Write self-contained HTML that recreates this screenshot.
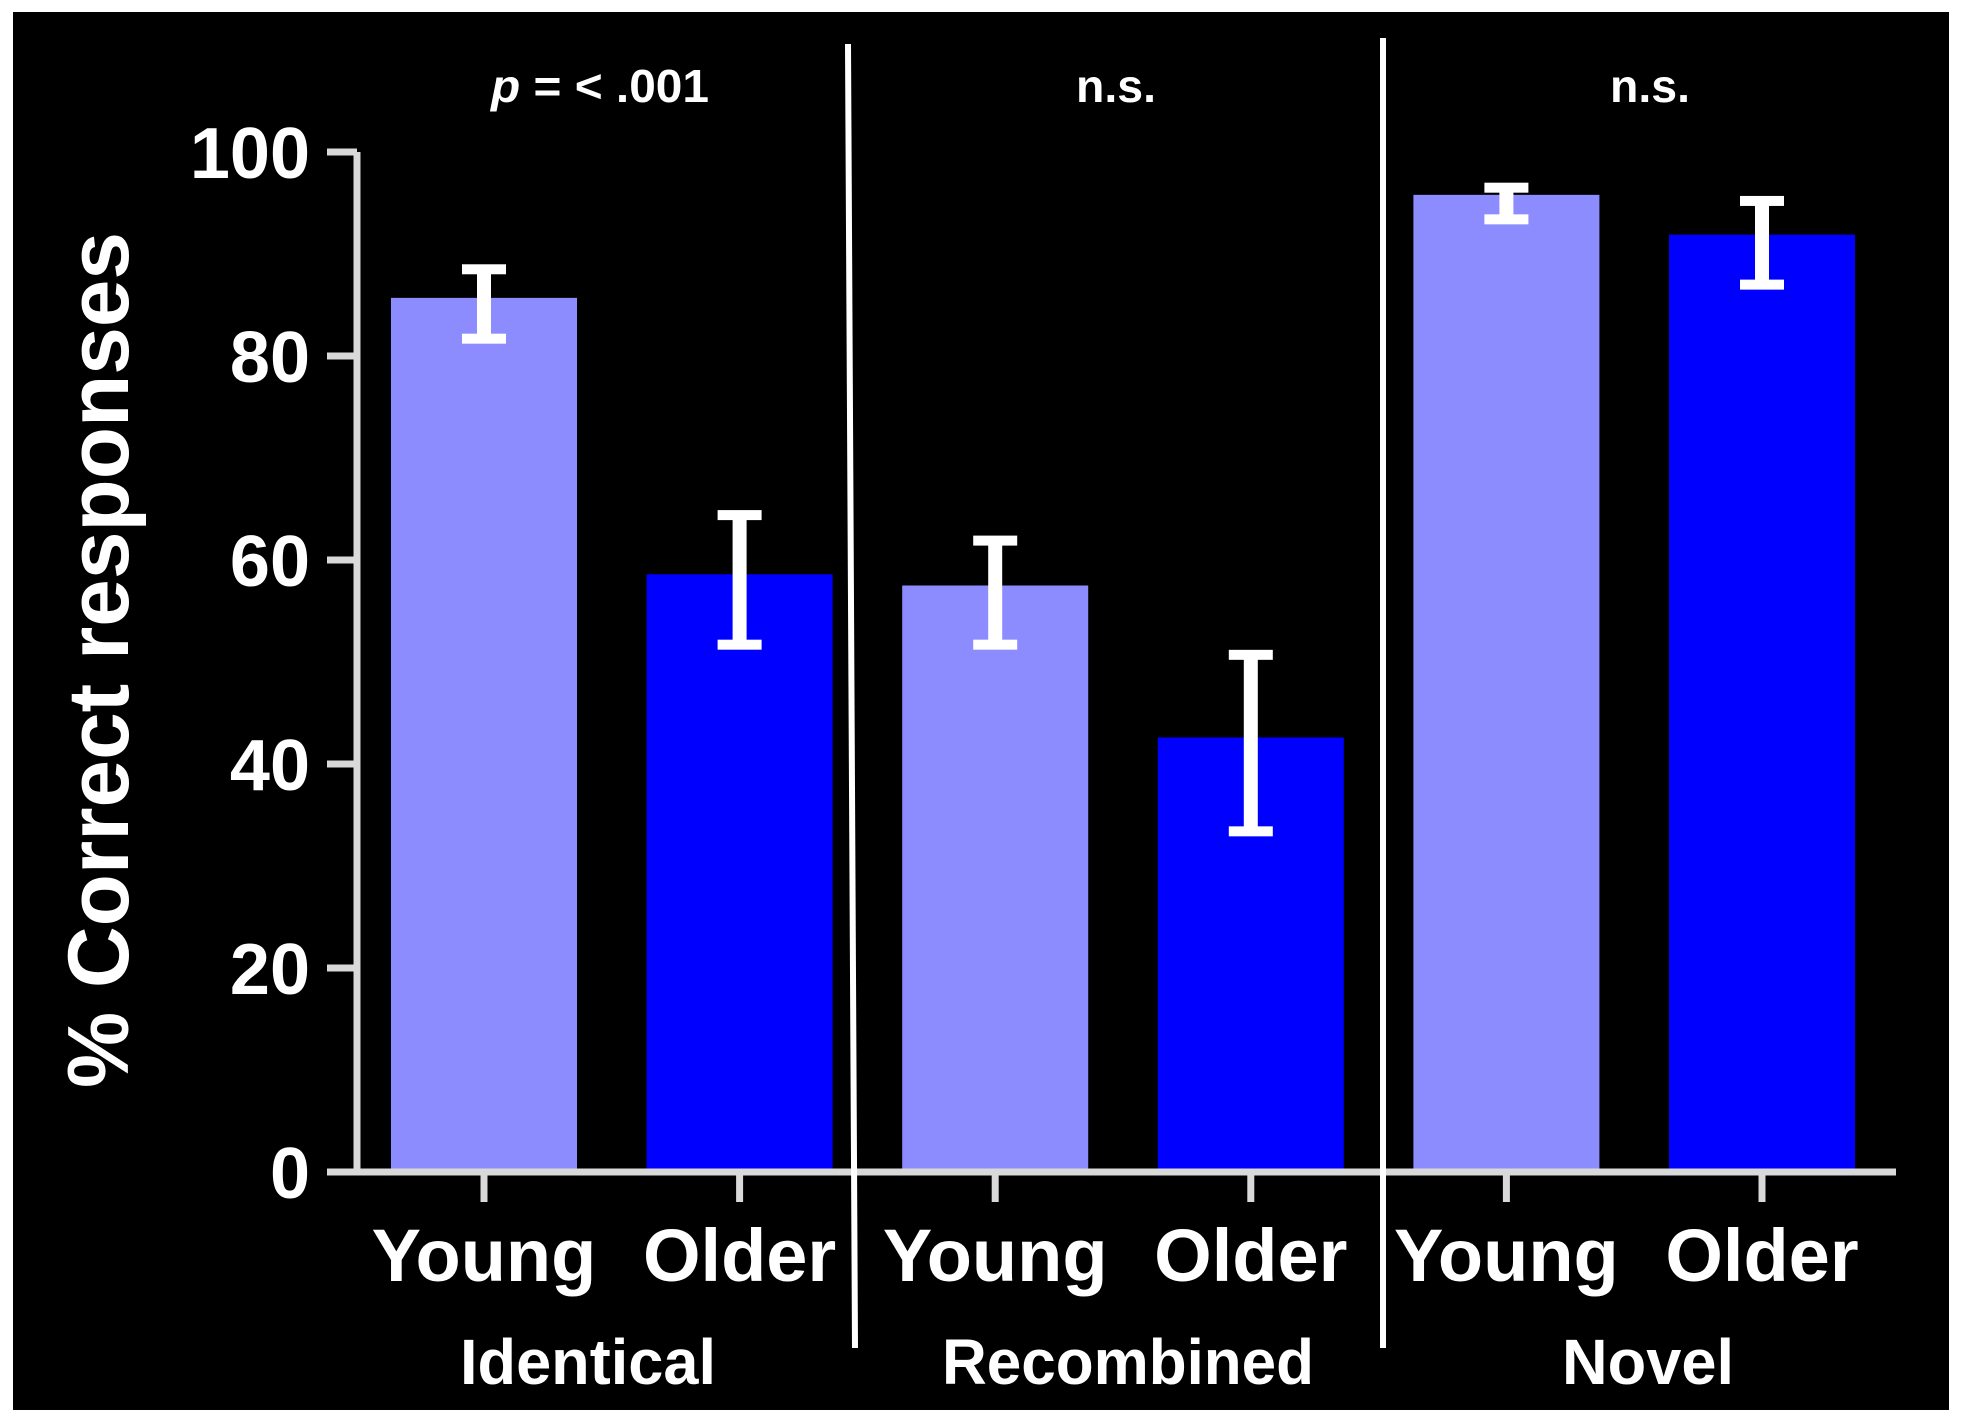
<!DOCTYPE html>
<html><head><meta charset="utf-8"><style>
html,body{margin:0;padding:0;background:#fff;}
svg{display:block;}
text{fill:#fff;}
</style></head><body>
<svg id="chart" width="1961" height="1421" viewBox="0 0 1961 1421" xmlns="http://www.w3.org/2000/svg">
<rect x="13" y="12" width="1936" height="1398" fill="#000"/>
<g id="marks"></g>
<text transform="translate(128,660) rotate(-90)" text-anchor="middle" font-family="Liberation Sans, sans-serif" font-weight="bold" font-size="86" textLength="856" lengthAdjust="spacingAndGlyphs">% Correct responses</text>
</svg>
<script>
const categories = ["Young","Older","Young","Older","Young","Older"];
const groups = ["Identical","Recombined","Novel"];
const sigLabels = ["p = < .001","n.s.","n.s."];
const means = [85.7, 58.6, 57.5, 42.6, 95.8, 91.9];
const errHigh = [88.6, 64.5, 62.0, 50.8, 96.6, 95.3];
const errLow = [81.6, 51.6, 51.6, 33.3, 93.3, 86.9];
const yTicks = [0, 20, 40, 60, 80, 100];

const NS = "http://www.w3.org/2000/svg";
const g = document.getElementById('marks');
const y = v => 1172 - v * 10.2;
const xc = i => 484 + i * 255.6;
const barW = 186;
const colors = ["#8c8cff", "#0000ff"];
function mk(tag, attrs, parent) {
  const el = document.createElementNS(NS, tag);
  for (const k in attrs) el.setAttribute(k, attrs[k]);
  (parent || g).appendChild(el);
  return el;
}
// bars
means.forEach((v, i) => {
  const r = mk('rect', {x: xc(i) - barW / 2, y: y(v), width: barW, height: y(0) - y(v), fill: colors[i % 2]});
  
  
});
// error bars
means.forEach((v, i) => {
  const eg = mk('g', {fill: '#fff'});
  
  
  const hi = y(errHigh[i]), lo = y(errLow[i]);
  mk('rect', {x: xc(i) - 7, y: hi, width: 14, height: lo - hi}, eg);
  mk('rect', {x: xc(i) - 22, y: hi - 4, width: 44, height: 10}, eg);
  mk('rect', {x: xc(i) - 22, y: lo - 6, width: 44, height: 10}, eg);
});
// axes
const ax = mk('g', {stroke: '#d9d9d9', 'stroke-width': 7, fill: 'none'});


mk('line', {x1: 357, y1: y(100), x2: 357, y2: y(0) + 3}, ax);
mk('line', {x1: 327, y1: y(0), x2: 1896, y2: y(0)}, ax);
yTicks.forEach(t => {
  mk('line', {x1: 327, y1: y(t), x2: 357, y2: y(t)}, ax);
  const tl = mk('text', {x: 310, y: y(t) + 26, 'text-anchor': 'end', 'font-family': 'Liberation Sans, sans-serif', 'font-weight': 'bold', 'font-size': 72});
  tl.textContent = t;
  
  
});
categories.forEach((c, i) => {
  mk('line', {x1: xc(i), y1: y(0), x2: xc(i), y2: y(0) + 30}, ax);
  const tl = mk('text', {x: xc(i), y: 1281, 'text-anchor': 'middle', 'font-family': 'Liberation Sans, sans-serif', 'font-weight': 'bold', 'font-size': 74});
  tl.textContent = c;
  
  
});
// dividers
[[848, 44, 855, 1348], [1383, 38, 1383, 1348]].forEach((d, k) => {
  const l = mk('line', {x1: d[0], y1: d[1], x2: d[2], y2: d[3], stroke: '#fff', 'stroke-width': 6});
  
  
});
// group labels and significance
const gx = [588, 1128, 1648];
const gw = [256, 372, 172];
groups.forEach((gr, k) => {
  const t = mk('text', {x: gx[k], y: 1384, 'text-anchor': 'middle', 'font-family': 'Liberation Sans Narrow, Liberation Sans, sans-serif', 'font-weight': 'bold', 'font-size': 64, textLength: gw[k], lengthAdjust: 'spacingAndGlyphs'});
  t.textContent = gr;
  
  
});
const sx = [600, 1116, 1650];
const sw = [218, 80, 80];
sigLabels.forEach((s, k) => {
  const t = mk('text', {x: sx[k], y: 102, 'text-anchor': 'middle', 'font-family': 'Liberation Sans Narrow, Liberation Sans, sans-serif', 'font-weight': 'bold', 'font-size': 46, textLength: sw[k], lengthAdjust: 'spacingAndGlyphs'});
  if (k === 0) {
    const p = mk('tspan', {'font-style': 'italic'}, t); p.textContent = 'p';
    const r = mk('tspan', {}, t); r.textContent = s.slice(1);
  } else t.textContent = s;
  
  
});
</script>
</body></html>
